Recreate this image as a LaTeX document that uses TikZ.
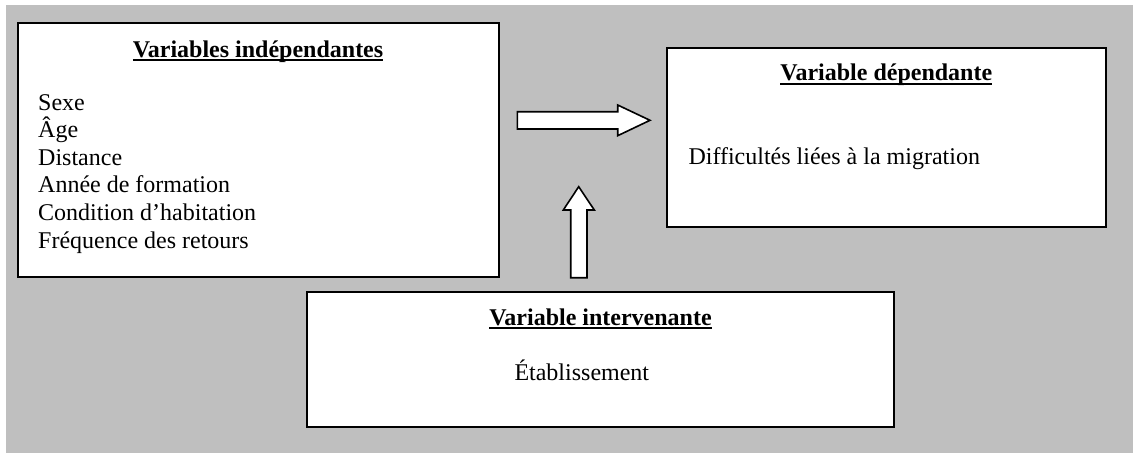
\documentclass[tikz,border=0pt]{standalone}
\usepackage{fontspec}
\setmainfont{Liberation Serif}
\newcommand\headline[1]{\setbox0\hbox{\bfseries #1}\rlap{\rule[-4.2pt]{\wd0}{2pt}}\box0}
\tikzset{
  panel/.style={draw=black, line width=2pt, fill=white},
  blockarrow/.style={draw=black, line width=1.6pt, fill=white, line join=miter},
  heading/.style={anchor=base, inner sep=0pt},
  item/.style={anchor=base west, inner sep=0pt},
}
\begin{document}
\begin{tikzpicture}[x=1pt, y=-1pt, font=\fontsize{24}{27.6}\selectfont]
\useasboundingbox (0,0) rectangle (1133,453);
\fill[white] (0,0) rectangle (1133,453);
\fill[black!25] (6,4.5) rectangle (1133,453);

% boxes
\draw[panel] (17.5,23.3) rectangle (499,277);
\draw[panel] (666.7,48.3) rectangle (1106,226.7);
\draw[panel] (307.3,292.3) rectangle (894,426.7);

% independent variables
\node[heading] (indT) at (258,57) {\headline{Variables indépendantes}};
\foreach \t [count=\i] in {Sexe, Âge, Distance, Année de formation, Condition d’habitation, Fréquence des retours}
  \node[item] (ind\i) at (38,{110+27.6*(\i-1)}) {\t};

% dependent variable
\node[heading] (depT) at (886.3,80.7) {\headline{Variable dépendante}};
\node[item] (dep1) at (688.3,164) {Difficultés liées à la migration};

% intervening variable
\node[heading] (intT) at (600.5,325) {\headline{Variable intervenante}};
\node[item] (int1) at (514.3,380) {Établissement};

% block arrows
\draw[blockarrow] (517.3,111.7) -- (617.7,111.7) -- (617.7,105) -- (650,120.3)
  -- (617.7,135.7) -- (617.7,129) -- (517.3,129) -- cycle;
\draw[blockarrow] (570.7,277.7) -- (570.7,210) -- (563.3,210) -- (578.7,186.7)
  -- (594.3,210) -- (587,210) -- (587,277.7) -- cycle;
\end{tikzpicture}
\end{document}
